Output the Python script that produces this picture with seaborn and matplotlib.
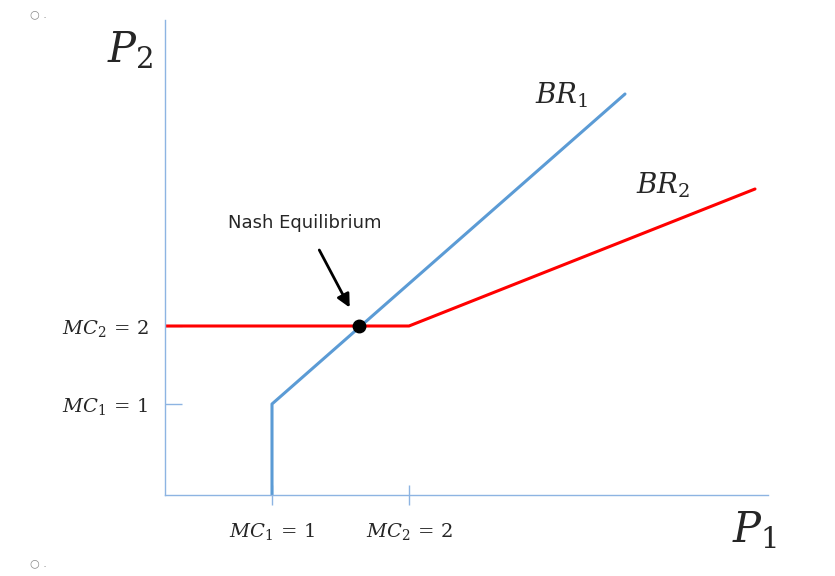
import numpy as np
import pandas as pd
import matplotlib
matplotlib.use("Agg")
import matplotlib.pyplot as plt
import seaborn as sns

sns.set_style("white")
plt.rcParams["font.family"] = ["DejaVu Sans"]
plt.rcParams["mathtext.fontset"] = "dejavuserif"

# best response curves (axis units: origin at the axes corner)
br1_x = [1.07, 1.07, 4.60]
br1_y = [0.0, 0.91, 4.01]
br2_x = [0.0, 2.44, 5.90]
br2_y = [1.69, 1.69, 3.06]
nash = (1.94, 1.69)
mc_x = [1.07, 2.44]
mc_y = [0.91, 1.69]
x_labels = [r"$MC_1\,=\,1$", r"$MC_2\,=\,2$"]
y_labels = [r"$MC_1\,=\,1$", r"$MC_2\,=\,2$"]

axis_col = "#8DB4E2"
blue = "#5B9BD5"
red = "#FF0000"

fig = plt.figure(figsize=(8.35, 5.76), dpi=100)
ax = fig.add_axes([165/835, 81/576, 603/835, 475/576])

df1 = pd.DataFrame({"x": br1_x, "y": br1_y})
df2 = pd.DataFrame({"x": br2_x, "y": br2_y})
sns.lineplot(data=df2, x="x", y="y", sort=False, estimator=None, color=red, lw=2.2, ax=ax)
sns.lineplot(data=df1, x="x", y="y", sort=False, estimator=None, color=blue, lw=2.2, ax=ax)
ax.plot(*nash, "o", color="black", ms=9, zorder=5)

ax.set_xlim(0, 6.03)
ax.set_ylim(0, 4.75)
for s in ["top", "right"]:
    ax.spines[s].set_visible(False)
for s in ["left", "bottom"]:
    ax.spines[s].set_color(axis_col)
    ax.spines[s].set_linewidth(1)
ax.set_xticks(mc_x)
ax.set_xticklabels(x_labels, fontsize=14)
ax.set_yticks(mc_y)
ax.set_yticklabels(y_labels, fontsize=14)
ax.tick_params(axis="x", bottom=True, direction="inout", length=14, width=1, color=axis_col, pad=12)
ax.tick_params(axis="y", left=True, direction="in", length=12, width=1, color=axis_col, pad=12)
ax.set_xlabel("")
ax.set_ylabel("")

ax.annotate("Nash Equilibrium", xy=(nash[0] - 0.08, nash[1] + 0.16), xytext=(1.40, 2.72),
            ha="center", va="center", fontsize=13,
            arrowprops=dict(arrowstyle="-|>,head_width=0.3,head_length=0.6", color="black", lw=2,
                            shrinkA=12))

fig.text(130/835, 1 - 50/576, r"$P_2$", fontsize=30, ha="center", va="center")
fig.text(755/835, 1 - 530/576, r"$P_1$", fontsize=30, ha="center", va="center")
fig.text(562/835, 1 - 95/576, r"$BR_1$", fontsize=20, ha="center", va="center")
fig.text(663/835, 1 - 185/576, r"$BR_2$", fontsize=20, ha="center", va="center")
fig.text(38/835, 1 - 14/576, "○ .", fontsize=8, color="#888888", ha="center", va="center")
fig.text(38/835, 1 - 563/576, "○ .", fontsize=8, color="#888888", ha="center", va="center")

fig.savefig("out.png", dpi=100)
